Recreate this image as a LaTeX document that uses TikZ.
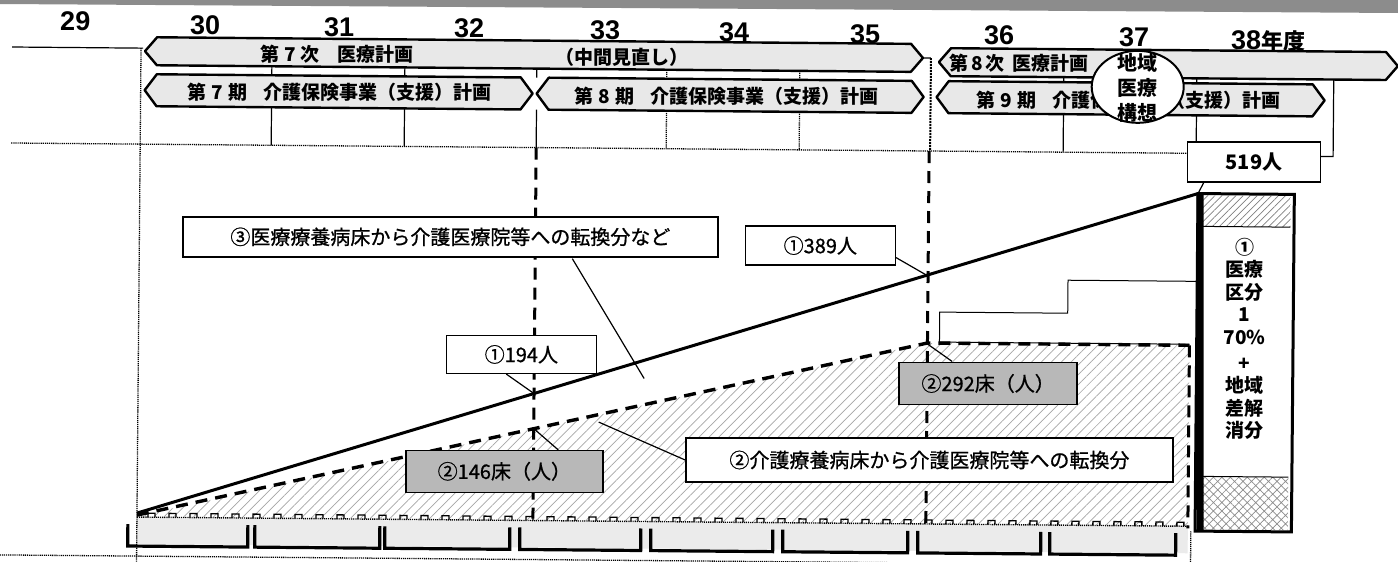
\documentclass[tikz,border=0pt]{standalone}
\usepackage{fontspec}
\setmainfont{Liberation Sans}
\newfontfamily\jp{Noto Sans CJK JP}
\newfontfamily\jpm[FakeBold=0.9]{Noto Sans CJK JP}
\usetikzlibrary{patterns.meta,shapes.geometric}
\tikzset{
  bandbox/.style={draw=black, line width=2.4pt, fill=black!9, line join=round},
  bandtext/.style={font=\jp\bfseries\fontsize{19}{22}\selectfont, inner sep=0pt},
  yeartext/.style={font=\bfseries\fontsize{27}{27}\selectfont, inner sep=0pt},
  tickline/.style={line width=1.2pt},
  dotline/.style={line width=1.3pt, dash pattern=on 1.2pt off 0.9pt},
  bigdash/.style={line width=3pt, dash pattern=on 12pt off 8pt},
  labelbox/.style={draw, line width=1.6pt, fill=white, inner sep=0pt, font=\jpm\fontsize{20}{24}\selectfont},
  greybox/.style={labelbox, fill=black!28},
  callout/.style={line width=1.2pt},
  coltext/.style={font=\jp\bfseries\fontsize{19}{22.6}\selectfont, align=center, inner sep=0pt},
  ovaltext/.style={font=\jp\bfseries\fontsize{20}{25}\selectfont, align=center, inner sep=0pt},
}
\begin{document}
\begin{tikzpicture}[x=1pt,y=-1pt]
\useasboundingbox (0,0) rectangle (1398,562);
\fill[white] (0,0) rectangle (1398,562);
\fill[black!45] (0,0) -- (1398,0) -- (1398,13) -- (0,4) -- cycle;
\begin{scope}[rotate around={-0.5:(699,281)}]
% hatched area and bracket band
\fill[pattern={Lines[angle=45,distance=7pt,line width=0.7pt]}, pattern color=black!35]
  (139,521) -- (928,341) -- (1190,341) -- (1190,522) -- cycle;
\fill[black!8] (139,523) rectangle (1190,549);
% left frame lines
\draw[tickline] (10,53) -- (141,53);
\draw[dotline] (139,53) -- (139,575);
\draw[dotline] (10,149) -- (1187,149);
\draw[dotline] (0,561) -- (1193,561);
\draw[dotline] (1193,527) -- (1193,575);
% ticks
\foreach \tx in {270,403,1062}{
  \draw[tickline] (\tx,70) -- (\tx,79) (\tx,111) -- (\tx,149);
}
\foreach \tx in {665,798}{
  \draw[dotline] (\tx,70) -- (\tx,79) (\tx,111) -- (\tx,149);
}
\draw[tickline] (535,70) -- (535,79) (535,111) -- (535,149);
\draw[tickline] (1195,74) -- (1195,79) (1195,111) -- (1195,137);
\draw[tickline] (921,56) -- (929,56);
\draw[line width=2pt, dash pattern=on 2pt off 1pt] (929,56) -- (929,149);
\draw[tickline] (1332,74) -- (1332,151) -- (1320,151);
% bands
\draw[bandbox] (143,56) -- (155,42) -- (909,42) -- (921,56) -- (909,70) -- (155,70) -- cycle;
\draw[bandbox] (937,60) -- (949,46) -- (1384,46) -- (1396,60) -- (1384,74) -- (949,74) -- cycle;
\draw[bandbox] (143,95) -- (155,79) -- (519,79) -- (531,95) -- (519,111) -- (155,111) -- cycle;
\draw[bandbox] (535,95) -- (547,79) -- (910,79) -- (922,95) -- (910,111) -- (547,111) -- cycle;
\draw[bandbox] (935,95) -- (947,79) -- (1311,79) -- (1323,95) -- (1311,111) -- (947,111) -- cycle;
\node[bandtext] (t7ji) at (335,57) {第\hspace{5pt}7\hspace{5pt}次\hspace{18pt}医療計画};
\node[bandtext] (tmid) at (620,58) {（中間見直し）};
\node[bandtext, anchor=east] (t8ji) at (1087,60) {第\hspace{3pt}8\hspace{3pt}次\hspace{8pt}医療計画};
\node[bandtext] (t7ki) at (338,95) {第\hspace{5pt}7\hspace{5pt}期\hspace{16pt}介護保険事業（支援）計画};
\node[bandtext] (t8ki) at (725,96) {第\hspace{5pt}8\hspace{5pt}期\hspace{16pt}介護保険事業（支援）計画};
\node[bandtext] (t9ki) at (1127,97) {第\hspace{5pt}9\hspace{5pt}期\hspace{16pt}介護保険事業（支援）計画};
% oval
\node[ellipse, draw, line width=2pt, fill=white, minimum width=92pt, minimum height=72pt, inner sep=0pt] (oval) at (1136,83) {};
\node[ovaltext] (ovt) at (1136,84) {地域\\医療\\構想};
% years
\node[yeartext] (y29) at (73,27) {29};
\node[yeartext] (y30) at (203,30) {30};
\node[yeartext] (y31) at (337,30) {31};
\node[yeartext] (y32) at (467,30) {32};
\node[yeartext] (y33) at (603,31) {33};
\node[yeartext] (y34) at (732,32) {34};
\node[yeartext] (y35) at (863,33) {35};
\node[yeartext] (y36) at (997,33) {36};
\node[yeartext] (y37) at (1132,33) {37};
\node[yeartext] (y38) at (1266,36) {38{\jp\fontsize{22}{22}\selectfont 年度}};
% rail line with bumps
\draw[line width=1.4pt, dash pattern=on 1.2pt off 0.9pt] (139,522) -- (1190,522);
\foreach \bx in {150,171,...,1180}{
  \draw[line width=1.3pt] (\bx,522) -- (\bx,518) -- (\bx+7,518) -- (\bx+7,522);
}
% brackets
\foreach \la/\ra in {130/250,257/382,387/512,522/643,653/775,785/910,920/1043,1052/1178}{
  \draw[line width=3.2pt] (\la,529) -- (\la,551) -- (\ra,551) -- (\ra,529);
}
% vertical big dashed lines
\draw[bigdash] (535,149) -- (535,520);
\draw[bigdash] (928,149) -- (928,522);
\draw[bigdash] (1190,341) -- (1190,524);
% stepped outline
\draw[line width=1pt] (1199,277) -- (1068,277) -- (1068,310) -- (940,310) -- (940,340) -- (1190,340);
% column
\node[inner sep=0pt, minimum width=93pt, minimum height=338pt, fill=white] (col) at (1245.5,358) {};
\fill[pattern={Lines[angle=45,distance=5pt,line width=0.7pt]}, pattern color=black!50] (1201,191) rectangle (1290,222);
\fill[pattern={Hatch[angle=45,distance=6pt,line width=0.7pt]}, pattern color=black!45] (1201,472) rectangle (1290,525);
\draw[line width=1pt] (1201,222) -- (1290,222) (1201,472) -- (1290,472);
\draw[line width=3pt] (col.north west) rectangle (col.south east);
\draw[line width=7pt] ([xshift=2pt]col.north west) -- ([xshift=2pt]col.south west);
\node[coltext] (coltxt) at (1245,334) {①\\医療\\区分\\1\\70\%\\[3pt]+\\地域\\差解\\消分};
% dashed conversion line
\draw[bigdash, line width=3.4pt] (139,520) -- (928,341) -- (1190,341);
% main solid line
\draw[line width=3pt] (139,518) -- (col.north west);
% label boxes
\node[labelbox, minimum width=535pt, minimum height=40pt] (b3) at (450,239) {③医療療養病床から介護医療院等への転換分など};
\node[labelbox, minimum width=150pt, minimum height=39pt] (b389) at (820,244.5) {①389人};
\node[labelbox, minimum width=150pt, minimum height=38pt] (b194) at (522,356) {①194人};
\node[greybox, minimum width=197pt, minimum height=42pt] (b146) at (506,473) {②146床（人）};
\node[labelbox, minimum width=487pt, minimum height=44pt] (b2t) at (931,458) {②介護療養病床から介護医療院等への転換分};
\node[greybox, minimum width=178pt, minimum height=42pt] (b292) at (989,381) {②292床（人）};
\node[labelbox, minimum width=133pt, minimum height=40pt, font=\jp\bfseries\fontsize{20}{24}\selectfont] (b519) at (1253,157) {519人};
% callouts
\coordinate (c3) at (645,379);
\coordinate (c389) at (928,274);
\coordinate (c194) at (535,395);
\coordinate (c146) at (535,430);
\coordinate (c292) at (928,342);
\coordinate (c2t) at (600,423);
\draw[callout] ([xshift=122pt]b3.south) -- (c3);
\draw[callout] ([yshift=-12pt]b389.east) -- (c389);
\draw[callout] ([xshift=-15pt]b194.south) -- (c194);
\draw[callout] ([xshift=54pt]b146.north) -- (c146);
\draw[callout] ([xshift=-36pt]b292.north) -- (c292);
\draw[callout] (b2t.west) -- (c2t);
\draw[callout] ([xshift=-50pt]b519.south) -- (col.north west);
\end{scope}
\end{tikzpicture}
\end{document}
